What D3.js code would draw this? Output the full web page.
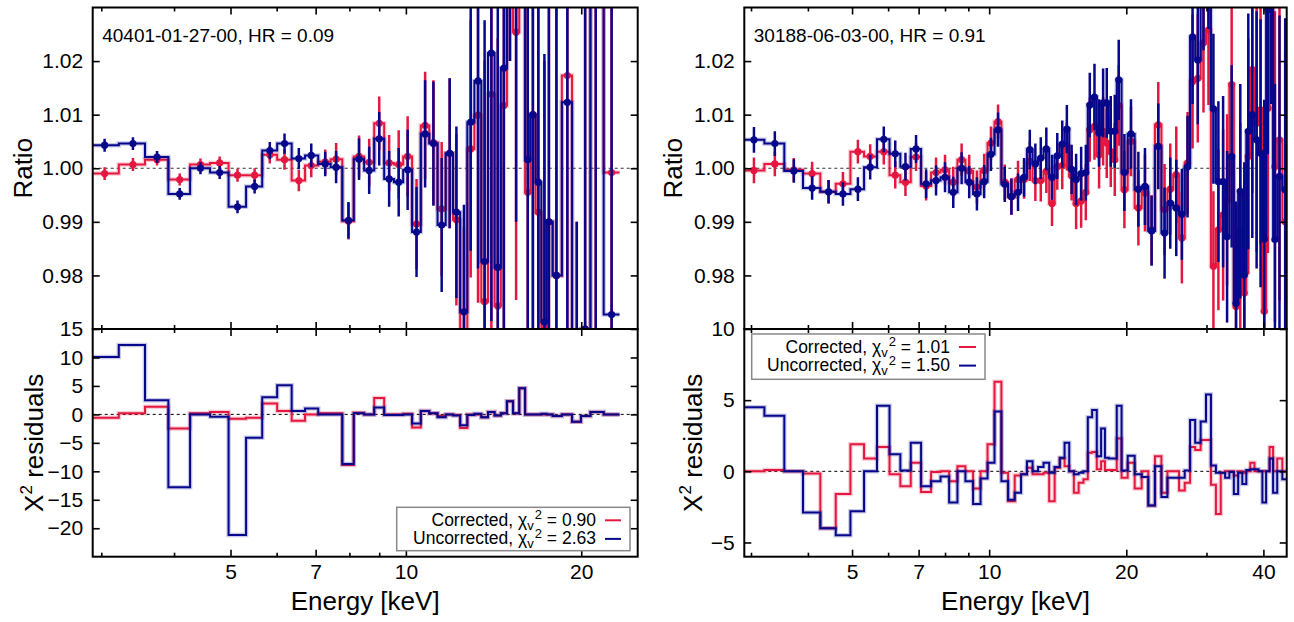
<!DOCTYPE html>
<html>
<head>
<meta charset="utf-8">
<script src="https://cdn.jsdelivr.net/npm/d3@7"></script>
<style>
  body { margin: 0; background: #fff; }
  svg { display: block; font-family: "Liberation Sans", Arial, Helvetica, sans-serif; }
</style>
</head>
<body>
<svg id="chart" width="1294" height="622"></svg>
<script>
// ---- Left observation: 40401-01-27-00 ----
const leftEnergy = [3.04, 3.40, 3.74, 4.09, 4.44, 4.79, 5.14, 5.50, 5.84, 6.19, 6.55, 6.88, 7.27, 7.59, 7.97, 8.31,
  8.65, 9.00, 9.36, 9.72, 10.07, 10.43, 10.79, 11.15, 11.52, 11.89, 12.21, 12.58, 12.92, 13.30, 13.65, 14.02,
  14.38, 14.73, 15.09, 15.46, 15.85, 16.19, 16.52, 16.88, 17.29, 17.60, 18.13, 18.93, 19.65, 20.31, 21.18, 22.55];
const leftRatioCorr = [0.9990, 1.0007, 1.0016, 0.9979, 1.0007, 1.0010, 0.9987, 0.9987, 1.0025, 1.0016,
  0.9977, 1.0005, 1.0012, 1.0017, 0.9901, 1.0022, 1.0011, 1.0084, 1.0010, 1.0007,
  1.0022, 0.9896, 1.0080, 1.0048, 0.9924, 1.0028, 0.9904, 0.9690, 1.0036, 1.0099,
  0.9751, 1.0138, 0.9743, 1.0117, 1.0600, 1.0254, 1.0700, 0.9955, 1.0100, 0.9918,
  0.9700, 0.9900, 0.9800, 1.0173, 0.9300, 0.9700, 1.0400, 0.9992];
const leftRatioUnc = [1.0043, 1.0046, 1.0021, 0.9952, 1.0000, 0.9992, 0.9928, 0.9966, 1.0033, 1.0046,
  1.0018, 1.0024, 1.0008, 1.0002, 0.9903, 1.0017, 0.9996, 1.0055, 0.9980, 0.9974,
  0.9997, 0.9881, 1.0064, 1.0046, 0.9894, 1.0028, 0.9918, 0.9732, 1.0086, 1.0163,
  0.9826, 1.0215, 0.9815, 1.0187, 1.0600, 1.0400, 1.0700, 1.0016, 1.0100, 0.9974,
  0.9713, 0.9900, 0.9800, 1.0123, 0.9300, 0.9700, 1.0400, 0.9727];
const leftRatioErr = [0.0012, 0.0012, 0.0011, 0.0011, 0.0011, 0.0012, 0.0012, 0.0013, 0.0016, 0.0019,
  0.0020, 0.0022, 0.0023, 0.0030, 0.0034, 0.0039, 0.0044, 0.0050, 0.0052, 0.0064,
  0.0075, 0.0084, 0.0100, 0.0116, 0.0125, 0.0140, 0.0160, 0.0200, 0.0240, 0.0350,
  0.0450, 0.0500, 0.0500, 0.0550, 0.0400, 0.0500, 0.0350, 0.0450, 0.0600, 0.0500,
  0.0500, 0.0600, 0.0650, 0.0650, 0.0600, 0.0700, 0.0750, 0.0800];
const leftResCorr = [-0.6, 0.2, 1.35, -2.5, 0.2, 0.4, -0.75, -0.6, 1.9, 0.6,
  -1.1, 0, 0.2, 0.2, -8.9, 0.3, 0, 2.9, 0, 0,
  0.1, -2.3, 0.6, 0.2, -0.3, 0, -0.1, -2.4, 0, 0,
  -0.5, 0.4, -0.2, 0.2, 2.3, 0.2, 4.6, 0, 0, 0,
  0, 0, -0.3, 0, -1.3, -0.3, 0.4, 0];
const leftResUnc = [10.1, 12.2, 2.5, -12.8, 0, -0.4, -21.2, -4.1, 3.0, 5.1,
  0.6, 1.05, 0, 0, -8.7, 0.2, 0, 1.2, -0.1, -0.1,
  0, -1.6, 0.6, 0.2, -0.5, 0, -0.2, -1.9, -0.1, 0.1,
  -0.5, 0.4, -0.2, 0.2, 2.3, 0.2, 4.6, 0, 0, 0,
  0.1, 0, -0.3, 0, -1.3, -0.3, 0.4, 0];
const leftXMajor = [5, 7, 10, 20];
const leftXMinor = [3, 4, 6, 8, 9];
const leftResTicks = [15, 10, 5, 0, -5, -10, -15, -20];
const leftTitle = '40401-01-27-00, HR = 0.09';
const leftChi = ['0.90', '2.63'];

// ---- Right observation: 30188-06-03-00 ----
const rightEnergy = [3.045, 3.384, 3.725, 4.086, 4.44, 4.775, 5.15, 5.48, 5.87, 6.22,
  6.55, 6.91, 7.27, 7.645, 8.00, 8.34, 8.70, 9.04, 9.40, 9.75,
  10.09, 10.46, 10.82, 11.19, 11.57, 11.93, 12.28, 12.63, 12.98, 13.35,
  13.74, 14.11, 14.47, 14.81, 15.17, 15.52, 15.92, 16.30, 16.63, 17.03,
  17.43, 17.79, 18.12, 18.49, 18.87, 19.25, 19.81, 20.48, 21.26, 21.98,
  22.73, 23.51, 24.27, 24.98, 25.75, 26.49, 27.26, 27.96, 28.71, 29.55,
  30.30, 31.07, 31.86, 32.63, 33.29, 34.07, 34.83, 35.59, 36.32, 37.06,
  37.82, 38.65, 39.43, 40.17, 40.93, 41.62, 42.40, 43.39, 44.66];
const rightRatioCorr = [0.9996, 1.0008, 0.9997, 0.9990, 0.9956, 0.9971, 1.0031, 1.0022, 1.0031, 0.9987,
  0.9974, 1.0021, 0.9967, 0.9992, 0.9997, 0.9974, 1.0016, 0.9995, 0.9965,
  0.9996, 1.0047, 1.0087, 0.9974, 0.9947, 0.9979, 0.9979, 1.0013, 0.9977, 0.9977,
  0.9994, 0.9934, 1.0003, 1.0005, 1.0041, 0.9986, 0.9934, 0.9939, 0.9955,
  1.0072, 1.0078, 1.0025, 1.0069, 1.0047, 1.0031, 1.0016, 1.0117, 0.9960, 1.0050,
  0.9926, 0.9954, 0.9885, 1.0081, 0.9923, 0.9961, 0.9988, 0.9870, 1.0010,
  1.0162, 1.0168, 1.0234, 1.0258, 0.9817, 0.9885, 0.9913, 0.9941, 1.0156, 0.9742,
  0.9885, 0.9767, 1.0022, 1.0184, 1.0084, 1.0109, 0.9733, 1.0112, 1.0400, 1.0003,
  1.0053, 0.9900];
const rightRatioUnc = [1.0053, 1.0046, 0.9995, 0.9963, 0.9956, 0.9952, 0.9961, 1.0002, 1.0054, 1.0027,
  1.0003, 1.0036, 0.9971, 0.9977, 0.9983, 0.9955, 1.0000, 0.9974, 0.9952,
  0.9975, 1.0026, 1.0072, 0.9970, 0.9947, 0.9955, 0.9983, 1.0035, 1.0008, 1.0019,
  1.0036, 0.9983, 1.0023, 1.0045, 1.0073, 0.9998, 0.9979, 0.9990, 0.9992,
  1.0118, 1.0133, 1.0066, 1.0122, 1.0122, 1.0069, 1.0069, 1.0165, 0.9992, 1.0064,
  0.9961, 0.9966, 0.9883, 1.0041, 0.9879, 0.9935, 0.9926, 0.9914, 1.0003,
  1.0245, 1.0202, 1.0350, 1.0400, 1.0111, 0.9975, 0.9975, 0.9872, 1.0022, 0.9748,
  0.9957, 0.9801, 1.0069, 1.0100, 1.0053, 1.0028, 0.9868, 1.0296, 1.0400, 0.9867,
  0.9985, 0.9960];
const rightRatioErr = [0.0024, 0.0023, 0.0022, 0.0022, 0.0022, 0.0022, 0.0022, 0.0023, 0.0024, 0.0025,
  0.0026, 0.0026, 0.0027, 0.0028, 0.0028, 0.0029, 0.0030, 0.0030, 0.0031,
  0.0031, 0.0031, 0.0032, 0.0033, 0.0034, 0.0035, 0.0036, 0.0037, 0.0038, 0.0039,
  0.0040, 0.0042, 0.0043, 0.0044, 0.0045, 0.0046, 0.0048, 0.0050, 0.0052,
  0.0060, 0.0062, 0.0063, 0.0064, 0.0065, 0.0066, 0.0068, 0.0075, 0.0072, 0.0065,
  0.0070, 0.0072, 0.0065, 0.0080, 0.0085, 0.0085, 0.0090, 0.0085, 0.0095,
  0.0125, 0.0120, 0.0130, 0.0140, 0.0140, 0.0150, 0.0160, 0.0160, 0.0170, 0.0190,
  0.0200, 0.0210, 0.0220, 0.0230, 0.0240, 0.0250, 0.0260, 0.0270, 0.0280, 0.0290,
  0.0300, 0.0320];
const rightResCorr = [0, 0.1, 0, -0.15, -4.0, -1.6, 1.9, 0.9, 1.7, -0.2,
  -1.05, 0.6, -1.45, -0.05, 0, -0.7, 0.35, 0, -1.2,
  0, 1.9, 6.3, -0.1, -2.1, -0.3, -0.2, 0.25, -0.2, -0.2,
  -0.1, -2.1, 0.25, 0.9, 0.35, 0, -1.5, -0.8, -0.55,
  1.3, 1.35, 0.15, 0.7, 0.1, 0.1, 0.1, 2.3, -0.45, 0.6,
  -1.2, 0, -2.4, 1.05, -1.5, 0, 0, -1.35, -0.8,
  1.7, 1.5, 2.2, 2.2, -0.95, -3.0, -0.1, 0, 0, -0.3,
  0, -0.1, 0, 0.6, 0, 0, 0, 0, 1.7, 0,
  0.9, 0];
const rightResUnc = [4.5, 3.9, 0, -2.9, -4.0, -4.5, -2.8, 0, 4.6, 1.2,
  0.05, 2.0, -1.05, -0.7, -0.37, -2.2, 0, -0.7, -2.3,
  -0.5, 0.6, 4.2, -0.7, -2.0, -1.5, -0.2, 0.7, 0, 0.3,
  0.6, -0.1, 0.3, 0.95, 2.0, 0, -0.2, -0.1, 0,
  3.8, 4.3, 1.05, 3.0, 0.95, 0.9, 0.9, 4.6, 0.05, 1.1,
  -0.2, -0.4, -2.4, 0.35, -1.8, -0.45, -0.45, -0.45, 0.05,
  3.6, 2.0, 3.5, 5.4, 0.4, -0.1, -0.1, -0.45, -0.05, -1.6,
  -0.1, -0.9, 0.1, 0.15, 0.15, 0, -2.2, 0, 0.9, -1.5,
  0, -0.55];
const rightXMajor = [5, 7, 10, 20, 40];
const rightXMinor = [3, 4, 6, 8, 9, 30];
const rightResTicks = [10, 5, 0, -5];
const rightTitle = '30188-06-03-00, HR = 0.91';
const rightChi = ['1.01', '1.50'];

const ratioTicks = [0.98, 0.99, 1.00, 1.01, 1.02];
const seriesNames = ['Corrected', 'Uncorrected'];

const colorCorr = '#e3173f';
const colorUnc = '#07078c';

const panels = [
  {
    id: 'L', left: 92.7, right: 637.7, xDomain: [2.9, 25], resDomain: [-25, 15],
    energy: leftEnergy, ratio: [leftRatioCorr, leftRatioUnc], err: leftRatioErr,
    res: [leftResCorr, leftResUnc], xMajor: leftXMajor, xMinor: leftXMinor, resTicks: leftResTicks,
    title: leftTitle, chi: leftChi, ratioLabelX: 32.3, resLabelX: 42.7,
    legend: { x: 396.7, y: 507.3, w: 233.3, h: 43.4, textX: 596, lineX: [605, 621] }
  },
  {
    id: 'R', left: 744.3, right: 1286.7, xDomain: [2.9, 45], resDomain: [-6, 10],
    energy: rightEnergy, ratio: [rightRatioCorr, rightRatioUnc], err: rightRatioErr,
    res: [rightResCorr, rightResUnc], xMajor: rightXMajor, xMinor: rightXMinor, resTicks: rightResTicks,
    title: rightTitle, chi: rightChi, ratioLabelX: 682.3, resLabelX: 701.7,
    legend: { x: 751.7, y: 334, w: 233.3, h: 45.3, textX: 950, lineX: [959, 976] }
  }
];

const layout = { top: 7.5, mid: 329, bottom: 556.7 };
const majorLen = 7, minorLen = 4;

const svg = d3.select('#chart');

// Bin edges half-way (in log space) between the bin centres.
function binEdges(c) {
  const e = [];
  for (let i = 1; i < c.length; i++) e.push(Math.sqrt(c[i - 1] * c[i]));
  e.unshift(c[0] * c[0] / e[0]);
  e.push(c[c.length - 1] * c[c.length - 1] / e[e.length - 1]);
  return e;
}

function drawSeries(g, x, y, energy, vals, err, color) {
  const edges = binEdges(energy);
  const n = energy.length;
  const pts = edges.map((e, i) => [e, vals[Math.min(i, n - 1)]]);
  const line = d3.line().x(d => x(d[0])).y(d => y(d[1])).curve(d3.curveStepAfter);
  g.append('path').attr('d', line(pts)).attr('fill', 'none')
    .attr('stroke', color).attr('stroke-opacity', 0.22).attr('stroke-width', 4.5);
  g.append('path').attr('d', line(pts)).attr('fill', 'none')
    .attr('stroke', color).attr('stroke-width', 2);
  if (!err) return;
  const rows = energy.map((e, i) => ({ e, v: vals[i], s: err[i] }));
  g.append('g').selectAll('line').data(rows).join('line')
    .attr('x1', d => x(d.e)).attr('x2', d => x(d.e))
    .attr('y1', d => y(d.v - d.s)).attr('y2', d => y(d.v + d.s))
    .attr('stroke', color).attr('stroke-width', 2.5);
  g.append('g').selectAll('circle').data(rows).join('circle')
    .attr('cx', d => x(d.e)).attr('cy', d => y(d.v)).attr('r', 3.6)
    .attr('fill', color);
}

function frameAxes(g, x, y, y0, y1, p, yTicks, yFormat, showX) {
  // left (labelled) + right, ticks inward
  g.append('g').attr('transform', `translate(${p.left},0)`)
    .call(d3.axisLeft(y).tickValues(yTicks).tickFormat(yFormat).tickSize(-majorLen).tickPadding(9.5))
    .call(a => a.select('.domain').remove());
  g.append('g').attr('transform', `translate(${p.right},0)`)
    .call(d3.axisRight(y).tickValues(yTicks).tickFormat('').tickSize(-majorLen))
    .call(a => a.select('.domain').remove());
  // top and bottom
  [[y0, d3.axisTop], [y1, d3.axisBottom]].forEach(([yy, ax], k) => {
    const lab = showX && k === 1;
    g.append('g').attr('transform', `translate(0,${yy})`)
      .call(ax(x).tickValues(p.xMajor).tickFormat(lab ? d3.format('d') : '').tickSize(-majorLen).tickPadding(7))
      .call(a => a.select('.domain').remove());
    g.append('g').attr('transform', `translate(0,${yy})`)
      .call(ax(x).tickValues(p.xMinor).tickFormat('').tickSize(-minorLen))
      .call(a => a.select('.domain').remove());
  });
  g.selectAll('.tick line').attr('stroke', '#000').attr('stroke-width', 1.6);
  g.selectAll('.tick text').attr('font-size', 21).attr('fill', '#000')
    .attr('font-family', '"Liberation Sans", Arial, sans-serif');
  g.append('rect').attr('x', p.left).attr('y', y0)
    .attr('width', p.right - p.left).attr('height', y1 - y0)
    .attr('fill', 'none').attr('stroke', '#000').attr('stroke-width', 2);
}

panels.forEach(p => {
  const g = svg.append('g');
  const x = d3.scaleLog().domain(p.xDomain).range([p.left, p.right]);
  const yR = d3.scaleLinear().domain([0.97, 1.03]).range([layout.mid, layout.top]);
  const yC = d3.scaleLinear().domain(p.resDomain).range([layout.bottom, layout.mid]);

  const defs = g.append('defs');
  defs.append('clipPath').attr('id', `clipTop${p.id}`).append('rect')
    .attr('x', p.left).attr('y', layout.top).attr('width', p.right - p.left).attr('height', layout.mid - layout.top);
  defs.append('clipPath').attr('id', `clipBot${p.id}`).append('rect')
    .attr('x', p.left).attr('y', layout.mid).attr('width', p.right - p.left).attr('height', layout.bottom - layout.mid);

  // Ratio panel
  const gTop = g.append('g').attr('clip-path', `url(#clipTop${p.id})`);
  gTop.append('line').attr('x1', p.left).attr('x2', p.right).attr('y1', yR(1)).attr('y2', yR(1))
    .attr('stroke', '#333').attr('stroke-width', 1).attr('stroke-dasharray', '3,3');
  drawSeries(gTop, x, yR, p.energy, p.ratio[0], p.err, colorCorr);
  drawSeries(gTop, x, yR, p.energy, p.ratio[1], p.err, colorUnc);

  // Residual panel
  const gBot = g.append('g').attr('clip-path', `url(#clipBot${p.id})`);
  gBot.append('line').attr('x1', p.left).attr('x2', p.right).attr('y1', yC(0)).attr('y2', yC(0))
    .attr('stroke', '#000').attr('stroke-width', 1).attr('stroke-dasharray', '3,3');
  drawSeries(gBot, x, yC, p.energy, p.res[0], null, colorCorr);
  drawSeries(gBot, x, yC, p.energy, p.res[1], null, colorUnc);

  frameAxes(g.append('g'), x, yR, layout.top, layout.mid, p, ratioTicks, d3.format('.2f'), false);
  frameAxes(g.append('g'), x, yC, layout.mid, layout.bottom, p, p.resTicks, d3.format('d'), true);

  // Observation label
  g.append('text').attr('x', p.left + 9.5).attr('y', 41.7).attr('font-size', 19).text(p.title);

  // Axis titles
  g.append('text').attr('transform', `translate(${p.ratioLabelX},${(layout.top + layout.mid) / 2}) rotate(-90)`)
    .attr('text-anchor', 'middle').attr('font-size', 26).text('Ratio');
  const chiLab = g.append('text')
    .attr('transform', `translate(${p.resLabelX},${(layout.mid + layout.bottom) / 2}) rotate(-90)`)
    .attr('text-anchor', 'middle').attr('font-size', 26);
  chiLab.append('tspan').text('Χ');
  chiLab.append('tspan').attr('font-size', 17).attr('dy', -11).text('2');
  chiLab.append('tspan').attr('dy', 11).text(' residuals');
  g.append('text').attr('x', (p.left + p.right) / 2).attr('y', 609.5)
    .attr('text-anchor', 'middle').attr('font-size', 26).text('Energy [keV]');

  // Legend
  const L = p.legend;
  const gl = g.append('g');
  gl.append('rect').attr('x', L.x).attr('y', L.y).attr('width', L.w).attr('height', L.h)
    .attr('fill', '#fff').attr('stroke', '#888').attr('stroke-width', 1.5);
  [colorCorr, colorUnc].forEach((c, i) => {
    const base = L.y + 18.5 + i * 18.6;
    const t = gl.append('text').attr('x', L.textX).attr('y', base)
      .attr('text-anchor', 'end').attr('font-size', 17.5);
    t.append('tspan').text(`${seriesNames[i]}, χ`);
    t.append('tspan').attr('font-size', 13).attr('dy', 4).text('v');
    t.append('tspan').attr('font-size', 13).attr('dx', 1).attr('dy', -10.5).text('2');
    t.append('tspan').attr('dy', 6.5).text(` = ${p.chi[i]}`);
    gl.append('line').attr('x1', L.lineX[0]).attr('x2', L.lineX[1])
      .attr('y1', base - 5.5).attr('y2', base - 5.5).attr('stroke', c).attr('stroke-width', 2);
  });
});
</script>
</body>
</html>
